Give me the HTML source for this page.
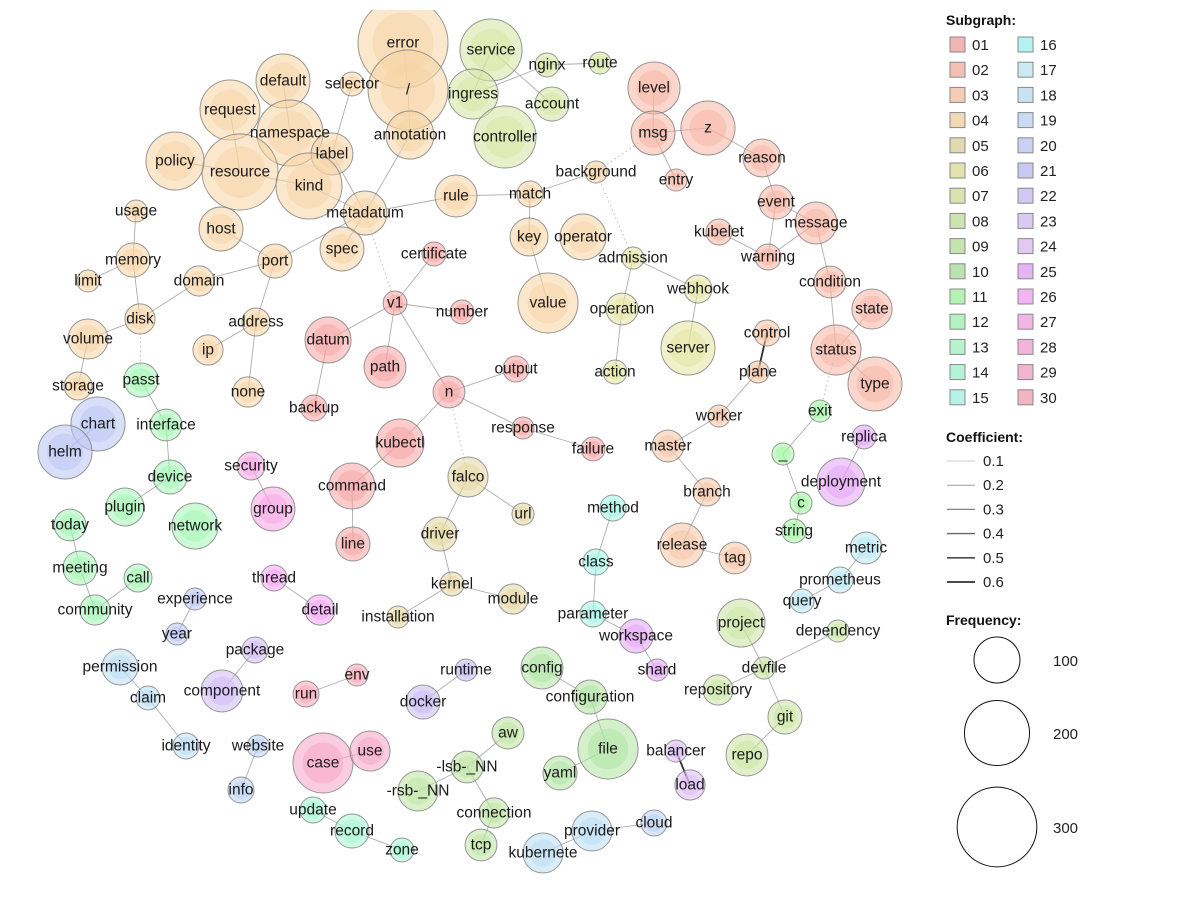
<!DOCTYPE html>
<html><head><meta charset="utf-8">
<style>
html,body{margin:0;padding:0;background:#fff;}
svg{display:block;font-family:"Liberation Sans",sans-serif;}
.lbl{font-size:15.5px;fill:#1a1a1a;text-anchor:middle;dominant-baseline:central;}
.lg{font-size:15px;fill:#222;}
.lt{font-size:14px;font-weight:bold;fill:#111;}
</style></head>
<body>
<svg id="chart" width="1200" height="900" viewBox="0 0 1200 900">
<defs><clipPath id="plotclip"><rect x="0" y="10" width="935" height="890"/></clipPath></defs>
<g id="plot" clip-path="url(#plotclip)">
<g id="edges"></g>
<g id="nodes"></g>
</g>
<g id="legend"></g>
</svg>
<script>
const names=["error","/","annotation","selector","default","request","namespace","resource","policy","label","kind","metadatum","spec","host","port","usage","memory","limit","domain","disk","volume","storage","address","ip","none","datum","backup","passt","interface","chart","helm","device","plugin","network","today","meeting","call","community","experience","year","permission","claim","identity","website","info","package","component","run","env","thread","detail","security","group","command","line","kubectl","case","use","update","record","zone","v1","certificate","number","path","n","output","response","failure","rule","match","background","key","operator","value","admission","operation","action","webhook","server","service","ingress","controller","nginx","account","route","level","msg","z","entry","reason","event","message","kubelet","warning","condition","state","status","type","control","plane","worker","master","branch","release","tag","exit","_","c","string","replica","deployment","metric","prometheus","query","falco","url","driver","kernel","module","installation","method","class","parameter","workspace","shard","project","dependency","devfile","repository","git","repo","config","configuration","file","yaml","aw","-lsb-_NN","-rsb-_NN","connection","tcp","runtime","docker","provider","kubernete","cloud","balancer","load"];
const xs=[403,408,410,352,283,230,290,240,175,332,309,365,342,221,275,136,133,88,199,140,88,78,256,208,248,328,314,141,166,98,65,170,125,195,70,80,138,95,195,177,120,148,186,258,241,255,222,306,357,274,320,251,273,352,353,400,323,370,313,352,402,395,434,462,385,449,516,523,593,456,530,596,529,583,548,633,622,615,698,688,491,473,505,547,552,600,654,653,708,676,762,776,816,719,768,830,872,836,875,767,758,719,668,707,682,735,820,783,801,794,864,841,866,840,802,468,523,440,452,513,398,613,596,593,636,657,741,838,764,718,785,747,542,590,608,560,508,467,418,494,481,466,423,592,543,654,676,690];
const ys=[43,90,135,84,81,110,133,172,161,154,186,213,249,229,261,211,260,281,281,319,339,386,322,350,392,340,408,380,425,424,452,477,507,526,525,568,578,610,599,634,667,698,746,746,790,650,691,694,675,578,610,466,509,486,544,443,763,751,810,831,850,303,254,312,367,392,369,428,449,196,194,172,237,237,303,258,309,372,289,348,50,94,137,65,104,63,88,133,128,180,158,202,223,232,257,282,309,350,384,333,372,416,446,492,545,558,411,454,503,531,437,482,548,580,601,477,514,534,584,599,617,508,562,614,636,670,623,631,668,690,717,755,668,697,749,773,733,767,791,813,845,670,702,831,853,823,751,785];
const freqs=[383,302,109,27,138,170,206,273,159,83,206,91,91,91,55,23,55,23,43,43,76,37,37,43,43,100,32,55,48,138,138,55,68,100,48,55,37,43,23,23,61,27,32,23,32,32,83,32,23,32,43,37,91,100,55,109,170,76,32,55,27,27,27,27,83,48,32,23,27,83,32,23,68,100,170,23,48,27,37,138,182,118,182,27,55,23,128,91,138,23,68,55,83,32,32,48,76,118,138,32,23,23,48,37,91,48,23,23,23,27,27,109,48,32,27,76,23,55,27,43,23,32,32,32,55,23,109,23,23,43,55,83,83,55,170,55,48,48,76,43,48,23,55,76,76,32,23,43];
const groups=[4,4,4,4,4,4,4,4,4,4,4,4,4,4,4,4,4,4,4,4,4,4,4,4,4,1,1,12,12,20,20,12,12,12,12,12,12,12,20,20,18,18,18,19,19,23,23,30,30,26,26,27,27,1,1,1,29,29,14,14,14,1,1,1,1,1,1,1,1,4,4,4,4,4,4,6,6,6,6,6,7,7,7,7,7,7,2,2,2,2,2,2,2,2,2,2,2,2,2,3,3,3,3,3,3,3,11,11,11,11,25,25,17,17,17,5,5,5,5,5,5,15,15,15,25,25,8,8,8,8,8,8,10,10,10,10,9,9,9,9,9,22,22,18,18,19,24,24];
const edgeFrom=["/","annotation","selector","label","kind","resource","request","policy","default","metadatum","metadatum","metadatum","port","port","port","address","address","domain","disk","memory","memory","disk","volume","passt","interface","device","today","meeting","community","experience","permission","claim","website","package","run","thread","security","kubectl","command","kubectl","n","v1","v1","v1","v1","datum","n","n","response","falco","falco","driver","kernel","kernel","rule","match","match","key","admission","operation","admission","webhook","ingress","ingress","service","nginx","level","msg","msg","z","reason","event","event","kubelet","warning","message","condition","status","status","control","plane","worker","master","branch","release","exit","_","c","replica","metric","prometheus","method","class","parameter","workspace","project","devfile","devfile","devfile","git","config","configuration","file","aw","-lsb-_NN","-lsb-_NN","connection","runtime","provider","provider","balancer","update","record","case","helm","error"];
const edgeTo=["annotation","metadatum","label","metadatum","metadatum","kind","resource","resource","namespace","rule","spec","port","host","domain","address","ip","none","disk","memory","usage","limit","volume","storage","interface","device","plugin","meeting","community","call","year","claim","identity","info","component","env","detail","group","command","line","n","v1","datum","path","certificate","number","backup","output","response","failure","url","driver","kernel","module","installation","match","background","key","value","operation","action","webhook","server","service","nginx","account","route","msg","z","entry","reason","event","message","warning","warning","message","condition","status","state","type","plane","worker","master","branch","release","tag","_","c","string","deployment","prometheus","query","class","parameter","workspace","shard","devfile","dependency","repository","git","repo","configuration","file","yaml","-lsb-_NN","-rsb-_NN","connection","tcp","docker","cloud","kubernete","load","record","zone","use","chart","/"];
const strongEdges=["control|plane","balancer|load"];
const strongCoef=[0.6,0.6];
const defaultCoef=0.15;
const weakFrom=["status","n","metadatum","background","msg","disk"];
const weakTo=["exit","falco","v1","admission","background","passt"];
const subgraphLabels=["01","02","03","04","05","06","07","08","09","10","11","12","13","14","15","16","17","18","19","20","21","22","23","24","25","26","27","28","29","30"];
const coefLabels=["0.1","0.2","0.3","0.4","0.5","0.6"];
const coefValues=[0.1,0.2,0.3,0.4,0.5,0.6];
const freqLabels=["100","200","300"];
const freqValues=[100,200,300];

const NS="http://www.w3.org/2000/svg";
function mk(t,a,p){const e=document.createElementNS(NS,t);for(const k in a)e.setAttribute(k,a[k]);p.appendChild(e);return e;}
function rScale(f){return 2.3*Math.sqrt(f);}
function hue(g){return (g-1)*12;}
function sat(h){if(h>=45&&h<=110)return 55;if(h>=190&&h<=285)return 70;return 80;}
function light(h){if(h>=190&&h<=285)return 84;if(h>=45&&h<=110)return 76;return 80;}
function col(g){const h=hue(g);return "hsl("+h+","+sat(h)+"%,"+light(h)+"%)";}
function legCol(g){const h=hue(g);return "hsl("+h+","+(sat(h)-8)+"%,"+(light(h)+3)+"%)";}
function eWidth(c){return 0.6+c*2;}
function eColor(c){const v=Math.round(215-c*280);return "rgb("+v+","+v+","+v+")";}

const idx={};names.forEach((n,i)=>idx[n]=i);
const eg=document.getElementById('edges');
for(let i=0;i<weakFrom.length;i++){
  const a=idx[weakFrom[i]],b=idx[weakTo[i]];
  const l=mk('line',{x1:xs[a],y1:ys[a],x2:xs[b],y2:ys[b],stroke:'#bbb','stroke-width':1,'stroke-dasharray':'1.5 3'},eg);
  
  
}
for(let i=0;i<edgeFrom.length;i++){
  const a=idx[edgeFrom[i]],b=idx[edgeTo[i]];
  const si=strongEdges.indexOf(edgeFrom[i]+"|"+edgeTo[i]);
  const c=si>=0?strongCoef[si]:defaultCoef;
  const l=mk('line',{x1:xs[a],y1:ys[a],x2:xs[b],y2:ys[b],stroke:eColor(c),'stroke-width':eWidth(c)},eg);
  
  
}
const ng=document.getElementById('nodes');
for(let i=0;i<names.length;i++){
  const r=rScale(freqs[i]);
  const g=mk('g',{},ng);
  
  
  mk('circle',{cx:xs[i],cy:ys[i],r:r,fill:col(groups[i]),'fill-opacity':0.55,stroke:'#777','stroke-opacity':0.75,'stroke-width':1},g);
  mk('circle',{cx:xs[i],cy:ys[i],r:r*0.68,fill:col(groups[i]),'fill-opacity':0.5},g);
}
for(let i=0;i<names.length;i++){
  const t=mk('text',{x:xs[i],y:ys[i],class:'lbl'},ng);
  t.textContent=names[i];
  
  
}
const lg=document.getElementById('legend');
let t=mk('text',{x:946,y:25,class:'lt'},lg);t.textContent="Subgraph:";


subgraphLabels.forEach((s,i)=>{
  const c=Math.floor(i/15),r=i%15;
  const x=950+c*68,y=37+r*25.2;
  const g=mk('g',{},lg);
  
  
  mk('rect',{x:x,y:y,width:15,height:15,fill:legCol(i+1),stroke:'#888','stroke-width':1},g);
  const tt=mk('text',{x:x+22,y:y+13,class:'lg'},g);tt.textContent=s;
});
t=mk('text',{x:946,y:442,class:'lt'},lg);t.textContent="Coefficient:";


coefValues.forEach((v,i)=>{
  const y=461+i*24.2;
  const g=mk('g',{},lg);
  
  
  mk('line',{x1:947,y1:y,x2:975,y2:y,stroke:eColor(v),'stroke-width':eWidth(v)},g);
  const tt=mk('text',{x:983,y:y+5,class:'lg'},g);tt.textContent=coefLabels[i];
});
t=mk('text',{x:946,y:625,class:'lt'},lg);t.textContent="Frequency:";


const fy=[660,733,827];
freqValues.forEach((v,i)=>{
  const g=mk('g',{},lg);
  
  
  mk('circle',{cx:997,cy:fy[i],r:rScale(v),fill:'none',stroke:'#111','stroke-width':1},g);
  const tt=mk('text',{x:1053,y:fy[i]+6,class:'lg'},g);tt.textContent=freqLabels[i];
});
</script>
</body></html>
